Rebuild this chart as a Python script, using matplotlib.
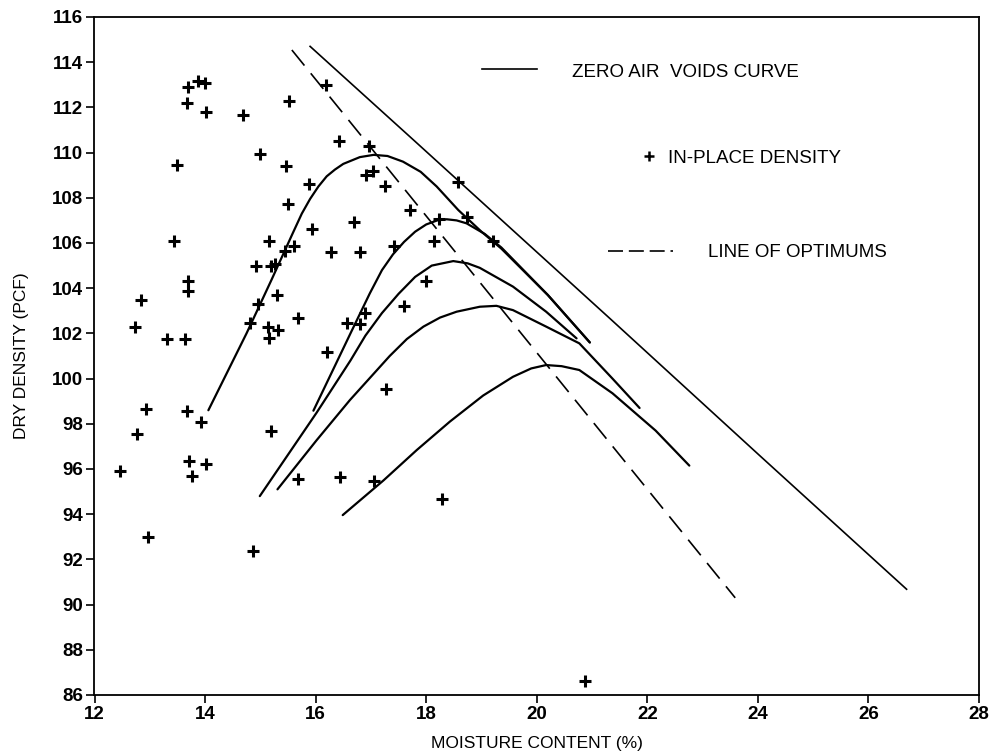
import matplotlib
matplotlib.use("Agg")
import matplotlib.pyplot as plt

plt.rcParams["font.family"] = ["Liberation Sans", "DejaVu Sans"]

# ---------------------------------------------------------------- data
# in-place density measurements (moisture %, dry density pcf)
pts_x = [13.70, 13.88, 14.00, 13.68, 14.01, 14.68, 15.52, 16.18, 13.49, 14.99,
         15.46, 16.43, 16.97, 16.92, 17.04, 15.88, 15.50, 17.26, 16.69, 13.44,
         15.16, 15.94, 15.44, 15.60, 16.27, 16.81, 17.42, 14.93, 15.19, 15.26,
         13.70, 13.70, 12.85, 12.73, 13.32, 13.64, 14.95, 15.31, 14.81, 15.14,
         15.32, 15.15, 15.69, 16.56, 16.80, 16.90, 16.20, 17.28, 12.93, 13.67,
         13.92, 12.77, 15.19, 12.46, 13.71, 14.01, 13.76, 15.69, 16.44, 17.05,
         18.58, 18.23, 18.73, 17.70, 18.14, 19.21, 18.00, 17.60, 18.28, 12.96,
         14.87, 20.87]
pts_y = [112.90, 113.16, 113.10, 112.20, 111.80, 111.66, 112.30, 112.98, 109.45, 109.93,
         109.40, 110.50, 110.30, 109.00, 109.20, 108.60, 107.73, 108.50, 106.95, 106.10,
         106.07, 106.60, 105.66, 105.85, 105.60, 105.60, 105.85, 104.97, 105.00, 105.07,
         104.30, 103.87, 103.47, 102.30, 101.77, 101.77, 103.30, 103.70, 102.47, 102.30,
         102.17, 101.80, 102.66, 102.44, 102.40, 102.90, 101.17, 99.55, 98.67, 98.57,
         98.06, 97.54, 97.66, 95.93, 96.34, 96.20, 95.70, 95.54, 95.66, 95.48,
         108.70, 107.07, 107.14, 107.44, 106.07, 106.07, 104.30, 103.20, 94.67, 93.00,
         92.37, 86.62]

# compaction curves
curve_a_x = [14.06, 14.75, 15.20, 15.58, 15.75, 15.90, 16.05, 16.20, 16.35, 16.50,
             16.80, 17.05, 17.30, 17.58, 17.90, 18.19, 18.58, 19.00, 19.36, 20.20,
             20.96]
curve_a_y = [98.6, 102.0, 104.36, 106.4, 107.3, 107.95, 108.5, 108.95, 109.25, 109.5,
             109.8, 109.9, 109.85, 109.6, 109.15, 108.5, 107.46, 106.5, 105.75, 103.7,
             101.6]
curve_b_x = [15.96, 16.65, 16.98, 17.20, 17.40, 17.60, 17.80, 18.00, 18.20, 18.37,
             18.55, 18.73, 19.06, 19.36, 20.20, 20.96]
curve_b_y = [98.58, 102.1, 103.77, 104.8, 105.5, 106.05, 106.5, 106.82, 107.0, 107.05,
             107.0, 106.87, 106.4, 105.8, 103.7, 101.6]
curve_c_x = [14.99, 16.02, 16.63, 16.90, 17.20, 17.50, 17.80, 18.10, 18.49, 18.75,
             18.97, 19.57, 20.17, 20.72]
curve_c_y = [94.8, 98.5, 100.8, 101.9, 102.9, 103.75, 104.5, 105.0, 105.2, 105.1,
             104.9, 104.07, 102.96, 101.78]
curve_d_x = [15.31, 16.02, 16.62, 17.34, 17.65, 17.95, 18.25, 18.55, 18.97, 19.27,
             19.57, 20.17, 20.77, 21.37, 21.86]
curve_d_y = [95.1, 97.28, 99.05, 101.0, 101.75, 102.3, 102.7, 102.96, 103.18, 103.22,
             103.03, 102.3, 101.56, 100.0, 98.7]
curve_e_x = [16.49, 17.23, 17.83, 18.43, 19.03, 19.57, 19.90, 20.17, 20.45, 20.77,
             21.37, 22.15, 22.76]
curve_e_y = [93.96, 95.5, 96.84, 98.1, 99.25, 100.08, 100.45, 100.6, 100.55, 100.38,
             99.35, 97.7, 96.15]

zav_x = [15.90, 17.77, 21.35, 24.03, 26.69]
zav_y = [114.7, 110.56, 102.6, 96.6, 90.68]
opt_x = [15.57, 23.59]
opt_y = [114.54, 90.3]

x_ticks = list(range(12, 29, 2))
y_ticks = list(range(86, 117, 2))

# ---------------------------------------------------------------- figure
fig = plt.figure(figsize=(9.95, 7.54), dpi=100)
ax = fig.add_axes([94.5 / 995, 59 / 754, 884.5 / 995, 678 / 754])

for cx, cy in [(curve_a_x, curve_a_y), (curve_b_x, curve_b_y), (curve_c_x, curve_c_y),
               (curve_d_x, curve_d_y), (curve_e_x, curve_e_y)]:
    ax.plot(cx, cy, color="black", lw=1.6, solid_capstyle="round",
            solid_joinstyle="round")

ax.plot(zav_x, zav_y, color="black", lw=1.2)
ax.plot(opt_x, opt_y, color="black", lw=1.2, dashes=(12, 6))

ax.plot(pts_x, pts_y, ls="none", marker="+", ms=8, mew=2.2, color="black")

# legend drawn by hand, as in the original
ax.plot([19.01, 20.0], [113.7, 113.7], color="black", lw=1.2)
ax.text(20.63, 113.55, "ZERO AIR  VOIDS CURVE", fontsize=13.5, va="center", ha="left")
ax.plot([22.03], [109.85], ls="none", marker="+", ms=7, mew=1.8, color="black")
ax.text(22.37, 109.75, "IN-PLACE DENSITY", fontsize=13.5, va="center", ha="left")
ax.plot([21.29, 22.46], [105.65, 105.65], color="black", lw=1.2, dashes=(9, 3.5))
ax.text(23.1, 105.6, "LINE OF OPTIMUMS", fontsize=13.5, va="center", ha="left")

ax.set_xlim(12, 28)
ax.set_ylim(86, 116)
ax.set_xticks(x_ticks)
ax.set_yticks(y_ticks)
ax.tick_params(direction="out", length=6, width=1.2, labelsize=13.5, pad=2)
for lab in ax.get_xticklabels() + ax.get_yticklabels():
    lab.set_fontweight("bold")
for s in ax.spines.values():
    s.set_linewidth(1.3)

ax.set_xlabel("MOISTURE CONTENT (%)", fontsize=12.5, labelpad=9)
ax.set_ylabel("DRY DENSITY (PCF)", fontsize=12.5, labelpad=17)

fig.savefig("out.png", dpi=100)
